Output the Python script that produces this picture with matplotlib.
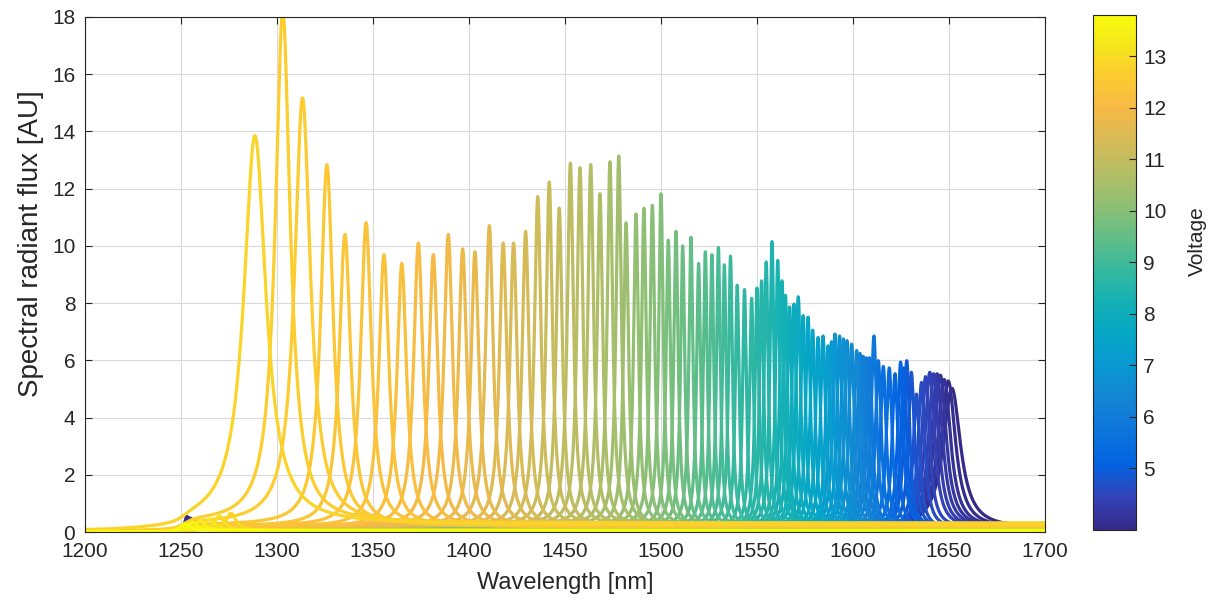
import numpy as np
import matplotlib
matplotlib.use("Agg")
import matplotlib.pyplot as plt
from matplotlib.colors import LinearSegmentedColormap, Normalize
from matplotlib.cm import ScalarMappable

plt.rcParams['font.family'] = ['Liberation Sans', 'DejaVu Sans']

### one spectrum per drive voltage (highest voltage first)
volts = [13.8, 13.6, 13.4, 13.2, 13.0, 12.9,
         12.8, 12.7, 12.6, 12.5, 12.4, 12.35, 12.3, 12.2, 12.1, 12.0,
         11.9, 11.8, 11.7, 11.6, 11.5, 11.4, 11.3, 11.2, 11.1, 11.0,
         10.9, 10.8, 10.7, 10.6, 10.5, 10.4, 10.3, 10.2, 10.1, 10.0,
         9.9, 9.8, 9.7, 9.6, 9.5, 9.4, 9.3, 9.2, 9.1, 9.0,
         8.9, 8.8, 8.75, 8.7, 8.6, 8.55, 8.5, 8.4,
         8.3, 8.2, 8.1, 8.0, 7.9, 7.8, 7.7, 7.6, 7.5, 7.4, 7.3, 7.2,
         7.0, 6.9, 6.8, 6.7, 6.6, 6.5, 6.4, 6.2, 6.1, 6.0, 5.9, 5.8,
         5.6, 5.5, 5.4, 5.2,
         5.1, 5.0, 4.9, 4.8, 4.7, 4.6, 4.5, 4.4, 4.3, 4.2, 4.1, 4.0, 3.9, 3.8]

peak_nm = [1252.0, 1256.0, 1260.0, 1265.0, 1270.0, 1276.0,
           1288.5, 1303.0, 1313.3, 1326.0, 1335.4, 1346.4, 1355.7, 1365.0, 1373.6, 1381.4,
           1389.2, 1396.7, 1403.1, 1410.6, 1417.8, 1423.2, 1429.5, 1435.8, 1441.8, 1447.0,
           1452.8, 1457.8, 1463.4, 1468.2, 1473.4, 1478.0, 1481.8, 1487.0, 1491.1, 1495.5,
           1500.0, 1503.8, 1507.8, 1511.3, 1515.6, 1519.6, 1523.1, 1526.5, 1529.9, 1533.0,
           1536.2, 1539.7, 1543.5, 1547.2, 1550.0, 1552.4, 1554.8, 1557.8,
           1560.8, 1563.0, 1564.8, 1567.0, 1569.3, 1571.5, 1574.0, 1576.6, 1579.0, 1581.8, 1584.4, 1587.0,
           1588.8, 1590.6, 1593.0, 1595.0, 1596.9, 1599.3, 1601.9, 1603.6, 1605.3, 1607.0, 1608.6, 1610.9,
           1613.2, 1615.8, 1618.9, 1621.9,
           1624.8, 1626.4, 1628.0, 1630.4, 1633.0, 1635.7, 1637.8, 1640.0, 1642.0, 1643.8, 1645.5,
           1647.5, 1649.6, 1651.5]

peak_au = [0.25, 0.3, 0.35, 0.4, 0.5, 0.6,
           13.6, 17.9, 14.9, 12.6, 10.2, 10.6, 9.5, 9.2, 9.9, 9.5,
           10.2, 9.7, 9.6, 10.5, 9.9, 9.9, 10.3, 11.5, 12.0, 11.1,
           12.65, 12.5, 12.6, 11.6, 12.7, 12.9, 10.6, 10.9, 11.1, 11.2,
           11.6, 10.0, 10.3, 9.8, 10.1, 9.2, 9.6, 9.5, 9.75, 9.15,
           9.45, 8.45, 8.3, 8.0, 8.35, 8.6, 9.25, 9.95,
           9.3, 8.6, 8.1, 7.7, 7.8, 8.05, 7.4, 7.35, 6.9, 6.65, 6.7, 6.36,
           6.5, 6.77, 6.7, 6.6, 6.54, 6.42, 6.2, 6.1, 6.0, 5.95, 5.95, 6.7,
           5.85, 5.65, 5.6, 5.4,
           5.8, 5.6, 5.85, 5.45, 4.7, 5.1, 5.3, 5.45, 5.4, 5.4, 5.35,
           5.2, 5.15, 4.9]

# Lorentzian half width of each line [nm]
width_nm = [3.0, 3.0, 3.0, 3.0, 3.0, 3.0,
            7.0, 4.7, 5.0, 3.9, 3.6, 3.4, 3.2, 3.0, 2.9, 2.8,
            2.7, 2.6, 2.5, 2.45, 2.4, 2.3, 2.2, 2.1, 2.0, 1.95,
            1.9, 1.85, 1.8, 1.75, 1.7, 1.65, 1.6, 1.55, 1.5, 1.5,
            1.45, 1.4, 1.4, 1.35, 1.3, 1.3, 1.25, 1.25, 1.2, 1.2,
            1.2, 1.2, 1.2, 1.25, 1.25, 1.3, 1.3, 1.3,
            1.35, 1.4, 1.4, 1.45, 1.45, 1.5, 1.5, 1.5, 1.55, 1.55, 1.6, 1.6,
            1.6, 1.6, 1.65, 1.65, 1.7, 1.7, 1.7, 1.7, 1.75, 1.75, 1.75, 1.75,
            1.8, 1.8, 1.8, 1.8,
            1.8, 1.8, 1.8, 1.9, 2.0, 2.2, 2.5, 3.0, 3.2, 3.5, 3.8,
            4.1, 4.6, 5.5]

# weak second-order line of the lowest voltages
side_nm = [1258.0, 1257.0, 1256.0, 1255.0, 1254.0, 1253.0]
side_au = [0.25, 0.3, 0.33, 0.38, 0.42, 0.47]

# parula
parula_rgb = [(0.2081, 0.1663, 0.5292), (0.1959, 0.2645, 0.7279), (0.0117, 0.3875, 0.8820),
              (0.0498, 0.4586, 0.8641), (0.0793, 0.5200, 0.8312), (0.0343, 0.5966, 0.8199),
              (0.0228, 0.6535, 0.7768), (0.0843, 0.6928, 0.7062), (0.2178, 0.7250, 0.6193),
              (0.3953, 0.7459, 0.5244), (0.5709, 0.7485, 0.4494), (0.7184, 0.7411, 0.3905),
              (0.8507, 0.7299, 0.3360), (0.9739, 0.7314, 0.2666), (0.9880, 0.8066, 0.1794),
              (0.9599, 0.9218, 0.0948), (0.9763, 0.9831, 0.0538)]
parula_pos = [0, 4, 8, 12, 16, 20, 24, 28, 32, 36, 40, 44, 48, 52, 56, 60, 63]
parula = LinearSegmentedColormap.from_list(
    "parula", [(p / 63.0, c) for p, c in zip(parula_pos, parula_rgb)])

norm = Normalize(vmin=min(volts), vmax=max(volts))
wl = np.linspace(1200, 1700, 5001)
# low ASE floor under every spectrum
floor = 1.0 / (1.0 + np.exp(-(wl - 1252.0) / 2.5))

fig = plt.figure(figsize=(12.1, 6.05), dpi=100)
ax = fig.add_axes([85 / 1210, 1 - 532 / 605, 960 / 1210, 515 / 605])
ink = '#262626'

n = len(volts)
for i in reversed(range(n)):
    spec = peak_au[i] / (1.0 + ((wl - peak_nm[i]) / width_nm[i]) ** 2)
    spec += (0.05 + 0.015 * peak_au[i]) * floor
    k = i - (n - len(side_nm))
    if k >= 0:
        spec += side_au[k] / (1.0 + ((wl - side_nm[k]) / 1.2) ** 2)
    ax.plot(wl, spec, color=parula(norm(volts[i])), lw=2.3, solid_joinstyle='round')

ax.set_xlim(1200, 1700)
ax.set_ylim(0, 18)
ax.set_xticks(np.arange(1200, 1701, 50))
ax.set_yticks(np.arange(0, 19, 2))
ax.grid(True, color='#dadada', lw=0.8)
ax.set_axisbelow(True)
ax.tick_params(direction='in', length=5, width=0.8, top=True, right=True,
               colors=ink, labelsize=15, pad=7)
for s in ax.spines.values():
    s.set_color(ink)
    s.set_linewidth(0.8)
ax.set_xlabel("Wavelength [nm]", fontsize=17, color=ink, labelpad=8)
ax.set_ylabel("Spectral radiant flux [AU]", fontsize=20, color=ink)
ax.yaxis.set_label_coords(-0.043, 0.56)

cax = fig.add_axes([1093 / 1210, 1 - 530 / 605, 43 / 1210, 515 / 605])
sm = ScalarMappable(norm=norm, cmap=parula)
cbar = fig.colorbar(sm, cax=cax)
cbar.set_ticks(range(5, 14))
cbar.ax.tick_params(direction='in', length=5, width=0.8, colors=ink, labelsize=15, pad=5)
cbar.outline.set_edgecolor(ink)
cbar.outline.set_linewidth(0.8)
cbar.set_label("Voltage", fontsize=15, color=ink)
cbar.ax.yaxis.set_label_coords(2.2, 0.56)

fig.savefig("out.png", dpi=100)
